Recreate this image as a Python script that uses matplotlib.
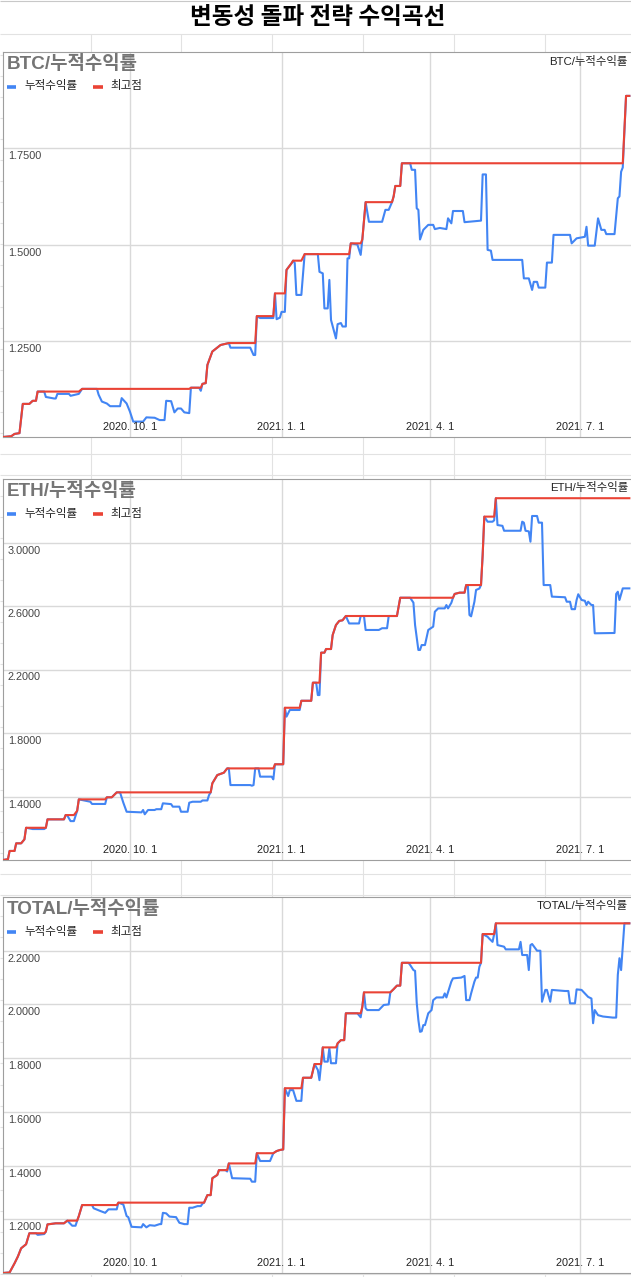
import numpy as np
import pandas as pd
import matplotlib
matplotlib.use('Agg')
import matplotlib.pyplot as plt
import matplotlib.dates as mdates
from matplotlib.lines import Line2D
from matplotlib.transforms import offset_copy

W, H = 631, 1277
KR = ['Liberation Sans', 'Noto Sans CJK KR']

# texts
title = '변동성 돌파 전략 수익곡선'
series_name = '누적수익률'
peak_name = '최고점'
names = ['BTC', 'ETH', 'TOTAL']

x_ticks = ['2020-10-01', '2021-01-01', '2021-04-01', '2021-07-01']
x_range = ['2020-07-16', '2021-08-01']

# BTC cumulative return (key points)
btc_dates = [
    '2020-07-16', '2020-07-21', '2020-07-23', '2020-07-26', '2020-07-28', '2020-08-01', '2020-08-03',
    '2020-08-05', '2020-08-06', '2020-08-10', '2020-08-11', '2020-08-16', '2020-08-17', '2020-08-18',
    '2020-08-25', '2020-08-26', '2020-08-31', '2020-09-02', '2020-09-11', '2020-09-12', '2020-09-14',
    '2020-09-17', '2020-09-19', '2020-09-25', '2020-09-26', '2020-09-29', '2020-10-01', '2020-10-03',
    '2020-10-09', '2020-10-11', '2020-10-16', '2020-10-19', '2020-10-22', '2020-10-23', '2020-10-26',
    '2020-10-28', '2020-10-30', '2020-11-01', '2020-11-03', '2020-11-06', '2020-11-07', '2020-11-12',
    '2020-11-13', '2020-11-14', '2020-11-16', '2020-11-17', '2020-11-20', '2020-11-25', '2020-11-30',
    '2020-12-01', '2020-12-13', '2020-12-15', '2020-12-16', '2020-12-17', '2020-12-19', '2020-12-27',
    '2020-12-28', '2020-12-29', '2020-12-31', '2021-01-01', '2021-01-03', '2021-01-04', '2021-01-07',
    '2021-01-08', '2021-01-09', '2021-01-10', '2021-01-13', '2021-01-15', '2021-01-23', '2021-01-24',
    '2021-01-26', '2021-01-27', '2021-01-29', '2021-01-30', '2021-01-31', '2021-02-03', '2021-02-04',
    '2021-02-06', '2021-02-07', '2021-02-09', '2021-02-10', '2021-02-11', '2021-02-12', '2021-02-16',
    '2021-02-18', '2021-02-19', '2021-02-21', '2021-02-23', '2021-03-03', '2021-03-05', '2021-03-07',
    '2021-03-09', '2021-03-10', '2021-03-11', '2021-03-14', '2021-03-15', '2021-03-20', '2021-03-21',
    '2021-03-23', '2021-03-24', '2021-03-25', '2021-03-26', '2021-03-28', '2021-03-31', '2021-04-03',
    '2021-04-04', '2021-04-07', '2021-04-11', '2021-04-12', '2021-04-14', '2021-04-15', '2021-04-21',
    '2021-04-22', '2021-05-02', '2021-05-03', '2021-05-05', '2021-05-06', '2021-05-08', '2021-05-09',
    '2021-05-27', '2021-05-28', '2021-05-31', '2021-06-02', '2021-06-03', '2021-06-05', '2021-06-06',
    '2021-06-10', '2021-06-11', '2021-06-14', '2021-06-15', '2021-06-25', '2021-06-26', '2021-06-29',
    '2021-07-04', '2021-07-05', '2021-07-06', '2021-07-10', '2021-07-12', '2021-07-14', '2021-07-16',
    '2021-07-17', '2021-07-22', '2021-07-24', '2021-07-25', '2021-07-26', '2021-07-27', '2021-07-29',
    '2021-07-31',
]
btc_values = [
    1.000, 1.002, 1.008, 1.010, 1.086, 1.086, 1.094,
    1.094, 1.118, 1.118, 1.104, 1.100, 1.100, 1.112,
    1.112, 1.107, 1.112, 1.125, 1.125, 1.110, 1.092,
    1.087, 1.080, 1.080, 1.101, 1.087, 1.066, 1.040,
    1.040, 1.051, 1.050, 1.044, 1.044, 1.094, 1.093,
    1.064, 1.074, 1.074, 1.064, 1.062, 1.128, 1.128,
    1.120, 1.138, 1.140, 1.187, 1.222, 1.239, 1.244,
    1.232, 1.232, 1.213, 1.213, 1.314, 1.309, 1.309,
    1.373, 1.306, 1.310, 1.325, 1.325, 1.434, 1.451,
    1.458, 1.452, 1.369, 1.369, 1.475, 1.475, 1.429,
    1.425, 1.334, 1.334, 1.408, 1.304, 1.256, 1.293,
    1.296, 1.287, 1.287, 1.464, 1.464, 1.503, 1.500,
    1.473, 1.513, 1.610, 1.559, 1.559, 1.590, 1.590,
    1.610, 1.625, 1.652, 1.652, 1.711, 1.711, 1.694,
    1.694, 1.594, 1.590, 1.513, 1.538, 1.551, 1.551,
    1.540, 1.543, 1.540, 1.568, 1.555, 1.587, 1.587,
    1.558, 1.562, 1.682, 1.682, 1.486, 1.484, 1.460,
    1.460, 1.412, 1.412, 1.382, 1.403, 1.403, 1.388,
    1.388, 1.453, 1.453, 1.525, 1.525, 1.503, 1.516,
    1.520, 1.546, 1.497, 1.497, 1.568, 1.538, 1.538,
    1.527, 1.527, 1.620, 1.625, 1.689, 1.700, 1.886,
    1.886,
]

# ETH cumulative return
eth_dates = [
    '2020-07-16', '2020-07-19', '2020-07-20', '2020-07-23', '2020-07-24', '2020-07-27', '2020-07-29',
    '2020-07-30', '2020-08-03', '2020-08-10', '2020-08-11', '2020-08-12', '2020-08-22', '2020-08-23',
    '2020-08-24', '2020-08-26', '2020-08-28', '2020-08-30', '2020-08-31', '2020-09-07', '2020-09-08',
    '2020-09-16', '2020-09-17', '2020-09-20', '2020-09-23', '2020-09-25', '2020-09-27', '2020-09-29',
    '2020-10-08', '2020-10-09', '2020-10-10', '2020-10-12', '2020-10-16', '2020-10-17', '2020-10-20',
    '2020-10-21', '2020-10-26', '2020-10-27', '2020-10-31', '2020-11-01', '2020-11-05', '2020-11-06',
    '2020-11-08', '2020-11-13', '2020-11-14', '2020-11-17', '2020-11-18', '2020-11-19', '2020-11-20',
    '2020-11-23', '2020-11-27', '2020-11-29', '2020-11-30', '2020-12-01', '2020-12-13', '2020-12-14',
    '2020-12-15', '2020-12-16', '2020-12-18', '2020-12-19', '2020-12-26', '2020-12-27', '2020-12-28',
    '2021-01-02', '2021-01-03', '2021-01-04', '2021-01-06', '2021-01-12', '2021-01-13', '2021-01-19',
    '2021-01-20', '2021-01-22', '2021-01-23', '2021-01-24', '2021-01-25', '2021-01-27', '2021-01-28',
    '2021-01-31', '2021-02-01', '2021-02-03', '2021-02-05', '2021-02-07', '2021-02-09', '2021-02-11',
    '2021-02-17', '2021-02-18', '2021-02-20', '2021-02-21', '2021-03-01', '2021-03-03', '2021-03-06',
    '2021-03-07', '2021-03-12', '2021-03-14', '2021-03-20', '2021-03-22', '2021-03-23', '2021-03-25',
    '2021-03-26', '2021-03-27', '2021-03-29', '2021-03-31', '2021-04-03', '2021-04-04', '2021-04-06',
    '2021-04-10', '2021-04-11', '2021-04-12', '2021-04-14', '2021-04-15', '2021-04-16', '2021-04-19',
    '2021-04-22', '2021-04-23', '2021-04-24', '2021-04-25', '2021-04-26', '2021-04-28', '2021-04-29',
    '2021-05-01', '2021-05-02', '2021-05-03', '2021-05-04', '2021-05-06', '2021-05-09', '2021-05-10',
    '2021-05-11', '2021-05-12', '2021-05-15', '2021-05-16', '2021-05-26', '2021-05-27', '2021-05-28',
    '2021-05-29', '2021-05-31', '2021-06-01', '2021-06-02', '2021-06-05', '2021-06-06', '2021-06-08',
    '2021-06-09', '2021-06-13', '2021-06-14', '2021-06-22', '2021-06-23', '2021-06-25', '2021-06-26',
    '2021-06-28', '2021-06-29', '2021-06-30', '2021-07-02', '2021-07-04', '2021-07-05', '2021-07-06',
    '2021-07-08', '2021-07-09', '2021-07-10', '2021-07-22', '2021-07-23', '2021-07-24', '2021-07-25',
    '2021-07-27', '2021-07-31',
]
eth_values = [
    1.000, 1.005, 1.057, 1.057, 1.105, 1.105, 1.130,
    1.203, 1.195, 1.195, 1.203, 1.256, 1.256, 1.283,
    1.280, 1.245, 1.245, 1.310, 1.382, 1.367, 1.353,
    1.353, 1.395, 1.395, 1.426, 1.426, 1.361, 1.304,
    1.300, 1.315, 1.288, 1.315, 1.315, 1.320, 1.320,
    1.357, 1.352, 1.336, 1.336, 1.304, 1.304, 1.361,
    1.367, 1.367, 1.375, 1.375, 1.409, 1.426, 1.483,
    1.535, 1.550, 1.577, 1.577, 1.472, 1.472, 1.468,
    1.472, 1.577, 1.577, 1.525, 1.525, 1.508, 1.603,
    1.603, 1.959, 1.903, 1.945, 1.945, 2.003, 2.003,
    2.117, 2.117, 2.039, 2.039, 2.306, 2.306, 2.329,
    2.329, 2.417, 2.480, 2.506, 2.510, 2.537, 2.490,
    2.490, 2.537, 2.537, 2.449, 2.449, 2.460, 2.460,
    2.537, 2.537, 2.652, 2.652, 2.621, 2.480, 2.323,
    2.323, 2.354, 2.354, 2.449, 2.470, 2.564, 2.585,
    2.585, 2.606, 2.585, 2.620, 2.652, 2.676, 2.684,
    2.684, 2.732, 2.732, 2.543, 2.535, 2.627, 2.701,
    2.710, 2.732, 2.921, 3.163, 3.131, 3.131, 3.140,
    3.279, 3.110, 3.105, 3.074, 3.074, 3.131, 3.125,
    3.074, 3.070, 3.005, 3.167, 3.167, 3.125, 3.125,
    2.732, 2.732, 2.659, 2.655, 2.627, 2.627, 2.580,
    2.580, 2.638, 2.674, 2.638, 2.633, 2.606, 2.627,
    2.606, 2.606, 2.428, 2.430, 2.676, 2.690, 2.638,
    2.711, 2.711,
]

# TOTAL cumulative return
total_dates = [
    '2020-07-16', '2020-07-20', '2020-07-23', '2020-07-25', '2020-07-27', '2020-07-30', '2020-08-01',
    '2020-08-05', '2020-08-06', '2020-08-10', '2020-08-11', '2020-08-12', '2020-08-17', '2020-08-22',
    '2020-08-24', '2020-08-27', '2020-08-29', '2020-08-30', '2020-08-31', '2020-09-02', '2020-09-08',
    '2020-09-09', '2020-09-13', '2020-09-16', '2020-09-18', '2020-09-23', '2020-09-24', '2020-09-27',
    '2020-09-29', '2020-09-30', '2020-10-02', '2020-10-08', '2020-10-09', '2020-10-11', '2020-10-13',
    '2020-10-16', '2020-10-19', '2020-10-20', '2020-10-21', '2020-10-23', '2020-10-25', '2020-10-29',
    '2020-10-31', '2020-11-03', '2020-11-05', '2020-11-06', '2020-11-08', '2020-11-11', '2020-11-13',
    '2020-11-14', '2020-11-15', '2020-11-17', '2020-11-19', '2020-11-20', '2020-11-23', '2020-11-24',
    '2020-11-28', '2020-11-29', '2020-11-30', '2020-12-02', '2020-12-13', '2020-12-14', '2020-12-16',
    '2020-12-17', '2020-12-19', '2020-12-25', '2020-12-27', '2020-12-29', '2020-12-31', '2021-01-02',
    '2021-01-03', '2021-01-05', '2021-01-06', '2021-01-08', '2021-01-10', '2021-01-13', '2021-01-14',
    '2021-01-19', '2021-01-21', '2021-01-23', '2021-01-24', '2021-01-25', '2021-01-26', '2021-01-27',
    '2021-01-29', '2021-01-30', '2021-01-31', '2021-02-03', '2021-02-04', '2021-02-06', '2021-02-08',
    '2021-02-09', '2021-02-16', '2021-02-18', '2021-02-19', '2021-02-20', '2021-02-21', '2021-02-22',
    '2021-03-01', '2021-03-04', '2021-03-07', '2021-03-08', '2021-03-10', '2021-03-12', '2021-03-14',
    '2021-03-15', '2021-03-19', '2021-03-20', '2021-03-22', '2021-03-23', '2021-03-24', '2021-03-25',
    '2021-03-26', '2021-03-27', '2021-03-28', '2021-03-29', '2021-03-31', '2021-04-02', '2021-04-03',
    '2021-04-05', '2021-04-09', '2021-04-10', '2021-04-11', '2021-04-12', '2021-04-14', '2021-04-15',
    '2021-04-20', '2021-04-22', '2021-04-23', '2021-04-25', '2021-04-26', '2021-04-28', '2021-04-29',
    '2021-04-30', '2021-05-01', '2021-05-02', '2021-05-03', '2021-05-06', '2021-05-07', '2021-05-09',
    '2021-05-10', '2021-05-11', '2021-05-12', '2021-05-16', '2021-05-17', '2021-05-25', '2021-05-26',
    '2021-05-27', '2021-05-30', '2021-05-31', '2021-06-01', '2021-06-02', '2021-06-05', '2021-06-07',
    '2021-06-08', '2021-06-10', '2021-06-11', '2021-06-13', '2021-06-14', '2021-06-22', '2021-06-24',
    '2021-06-25', '2021-06-28', '2021-06-29', '2021-07-02', '2021-07-04', '2021-07-06', '2021-07-08',
    '2021-07-09', '2021-07-10', '2021-07-12', '2021-07-15', '2021-07-21', '2021-07-23', '2021-07-24',
    '2021-07-25', '2021-07-26', '2021-07-28', '2021-07-31',
]
total_values = [
    1.000, 1.002, 1.036, 1.061, 1.092, 1.107, 1.148,
    1.148, 1.142, 1.145, 1.154, 1.181, 1.185, 1.185,
    1.195, 1.176, 1.176, 1.195, 1.212, 1.253, 1.253,
    1.241, 1.231, 1.224, 1.237, 1.237, 1.262, 1.255,
    1.212, 1.208, 1.172, 1.170, 1.182, 1.170, 1.178,
    1.176, 1.182, 1.182, 1.224, 1.222, 1.210, 1.208,
    1.187, 1.182, 1.182, 1.243, 1.243, 1.249, 1.249,
    1.258, 1.262, 1.290, 1.290, 1.353, 1.365, 1.383,
    1.383, 1.378, 1.408, 1.353, 1.351, 1.340, 1.340,
    1.446, 1.417, 1.417, 1.446, 1.454, 1.458, 1.460,
    1.688, 1.659, 1.681, 1.681, 1.641, 1.641, 1.727,
    1.727, 1.778, 1.756, 1.718, 1.778, 1.840, 1.787,
    1.787, 1.837, 1.781, 1.781, 1.855, 1.867, 1.867,
    1.967, 1.967, 1.952, 1.991, 2.045, 1.986, 1.979,
    1.979, 1.998, 2.000, 2.045, 2.057, 2.070, 2.070,
    2.155, 2.155, 2.147, 2.128, 2.125, 2.006, 1.942,
    1.898, 1.900, 1.923, 1.923, 1.967, 1.979, 2.016,
    2.026, 2.026, 2.041, 2.026, 2.046, 2.085, 2.097,
    2.100, 2.106, 2.016, 2.016, 2.041, 2.085, 2.100,
    2.100, 2.140, 2.155, 2.262, 2.252, 2.245, 2.233,
    2.262, 2.302, 2.221, 2.215, 2.205, 2.205, 2.233,
    2.184, 2.184, 2.128, 2.221, 2.225, 2.200, 2.200,
    2.010, 2.054, 2.054, 2.010, 2.054, 2.050, 2.050,
    2.004, 2.004, 2.056, 2.054, 2.041, 2.028, 2.022,
    1.930, 1.979, 1.960, 1.955, 1.951, 1.951, 2.110,
    2.172, 2.128, 2.302, 2.302,
]

btc_yticks = [1.25, 1.5, 1.75]
eth_yticks = [1.4, 1.8, 2.2, 2.6, 3.0]
total_yticks = [1.2, 1.4, 1.6, 1.8, 2.0, 2.2]
ylims = [(1.0, 2.0), (1.0, 3.4), (1.0, 2.4)]

all_dates = [btc_dates, eth_dates, total_dates]
all_values = [btc_values, eth_values, total_values]
all_yticks = [btc_yticks, eth_yticks, total_yticks]

# chart boxes in screen pixels (top, bottom)
boxes = [(52, 437), (479, 860), (897, 1273)]
LEFT = 3

BLUE = '#4285f4'
RED = '#ea4335'


def fx(px):
    return px / W


def fy(py):
    return 1 - py / H


fig = plt.figure(figsize=(W / 100, H / 100), dpi=100)

# spreadsheet grid behind the charts
bg = fig.add_axes([0, 0, 1, 1], zorder=0)
bg.set_xlim(0, W)
bg.set_ylim(H, 0)
bg.axis('off')
rows = 34 + 21.01 * np.arange(0, 60)
cols = 90.5 + 90.9 * np.arange(0, 6)
bg.hlines(rows, 0, W, color='#e2e2e2', lw=0.8)
bg.vlines(cols, 34, H, color='#e2e2e2', lw=0.8)
bg.hlines(0.5, 0, W, color='#c8c8c8', lw=0.8)

fig.text(fx(318), fy(17.5), title, fontsize=17, weight='bold',
         family=['Noto Sans CJK KR'], ha='center', va='center', color='black')

xmin, xmax = mdates.date2num(pd.to_datetime(x_range))

for name, dates, values, yticks, ylim, (top, bottom) in zip(
        names, all_dates, all_values, all_yticks, ylims, boxes):
    ax = fig.add_axes([fx(LEFT), fy(bottom), 1 - fx(LEFT), (bottom - top) / H], zorder=2)
    ax.set_facecolor('white')
    d = pd.to_datetime(dates)
    v = np.array(values)
    peak = np.maximum.accumulate(v)
    ax.plot(d, v, color=BLUE, lw=1.5, solid_joinstyle='round', zorder=3)
    ax.plot(d, peak, color=RED, lw=1.5, solid_joinstyle='round', zorder=4)
    ax.set_xlim(xmin, xmax)
    ax.set_ylim(*ylim)

    ax.set_xticks(mdates.date2num(pd.to_datetime(x_ticks)))
    ax.set_yticks(yticks)
    ax.grid(True, color='#d9d9d9', lw=1.0)
    ax.tick_params(length=0, labelbottom=False, labelleft=False)
    for s in ['left', 'top', 'bottom']:
        ax.spines[s].set_color('#9e9e9e')
        ax.spines[s].set_linewidth(0.8)
    ax.spines['right'].set_visible(False)

    # tick labels drawn inside the plot area
    ytr = offset_copy(ax.get_yaxis_transform(), fig=fig, x=0, y=-8, units='dots')
    for t in yticks:
        ax.text(5 / (W - LEFT), t, f'{t:.4f}', transform=ytr, fontsize=7.8,
                color='#444444', family='Liberation Sans', ha='left', va='center')
    xtr = offset_copy(ax.get_xaxis_transform(), fig=fig, x=0, y=10, units='dots')
    for t in pd.to_datetime(x_ticks):
        ax.text(mdates.date2num(t), 0, f'{t.year}. {t.month}. {t.day}', transform=xtr,
                fontsize=7.8, color='#222222', family='Liberation Sans',
                ha='center', va='center')

    # chart title, small title at right, legend
    fig.text(fx(7), fy(top + 12), f'{name}/{series_name}', fontsize=13.6, weight='bold',
             color='#757575', family=KR, ha='left', va='center', zorder=5)
    fig.text(fx(628), fy(top + 9), f'{name}/{series_name}', fontsize=8.2,
             color='#222222', family=KR, ha='right', va='center', zorder=5)
    ly = fy(top + 34.5)
    fig.add_artist(Line2D([fx(7), fx(16)], [ly, ly], color=BLUE, lw=2.6,
                          solid_capstyle='butt', zorder=5))
    fig.text(fx(24), ly, series_name, fontsize=8.3, color='#222222', family=KR,
             ha='left', va='center', zorder=5)
    fig.add_artist(Line2D([fx(93), fx(103)], [ly, ly], color=RED, lw=2.6,
                          solid_capstyle='butt', zorder=5))
    fig.text(fx(110), ly, peak_name, fontsize=8.3, color='#222222', family=KR,
             ha='left', va='center', zorder=5)

fig.savefig('out.png', dpi=100)
